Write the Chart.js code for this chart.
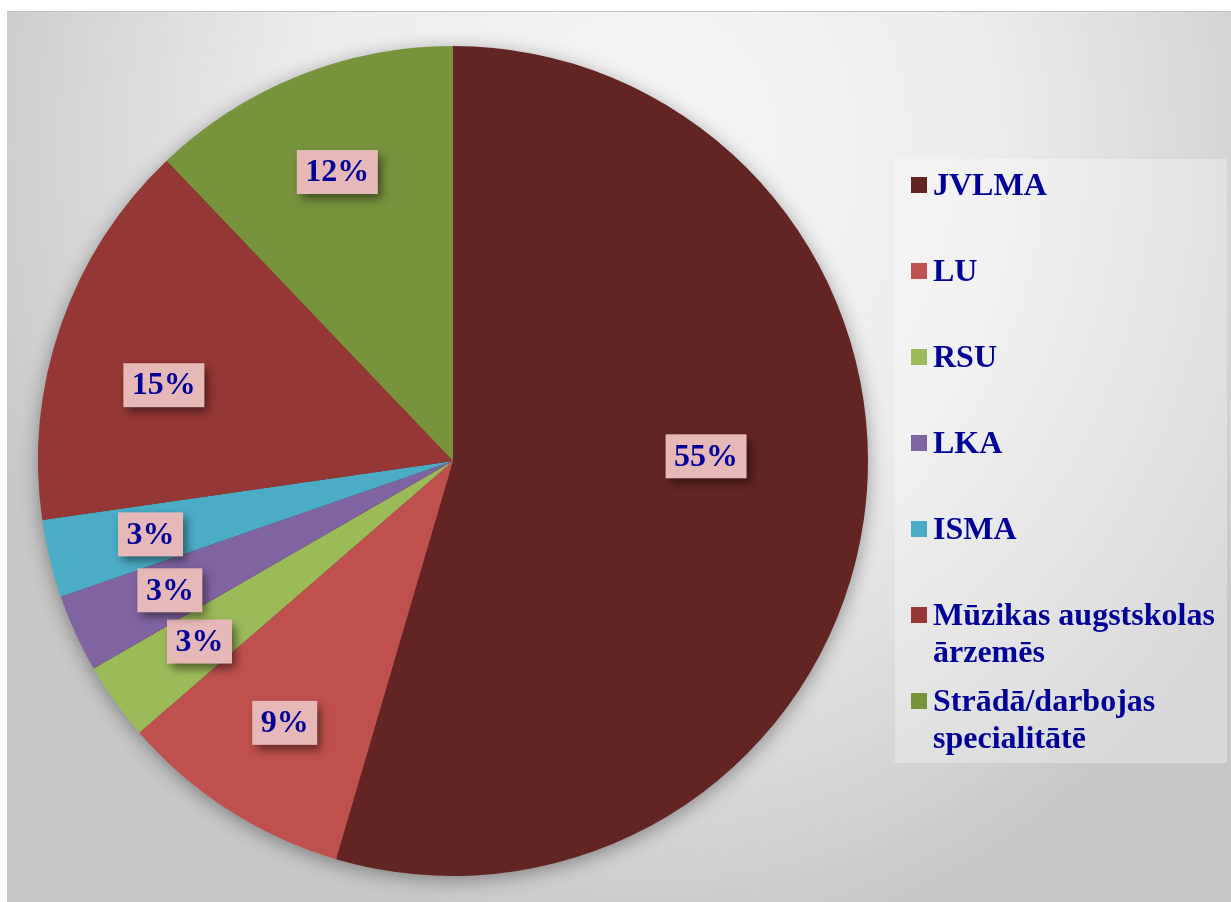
<!DOCTYPE html>
<html>
<head>
<meta charset="utf-8">
<script src="https://cdn.jsdelivr.net/npm/chart.js@4.4.0/dist/chart.umd.min.js"></script>
<style>
  html, body { margin: 0; padding: 0; background: #fff; }
  #wrap { position: relative; width: 1231px; height: 902px; overflow: hidden; }
  #bg {
    position: absolute; left: 7px; top: 11px; right: 0; bottom: 0;
    border-top: 1px solid #c6c6c6;
    background: radial-gradient(ellipse 700px 800px at 643px 139px, #f6f6f6 0%, #ececec 50%, #d4d4d4 85%, #c8c8c8 100%);
  }
  #myChart { position: absolute; left: 0; top: 0; }
</style>
</head>
<body>
<div id="wrap">
  <div id="bg"></div>
  <canvas id="myChart" width="1231" height="902"></canvas>
</div>
<script>
// categories (multi-line labels wrap like in the legend)
const categories = [
  'JVLMA',
  'LU',
  'RSU',
  'LKA',
  'ISMA',
  ['Mūzikas augstskolas', 'ārzemēs'],
  ['Strādā/darbojas', 'specialitātē']
];
// number of graduates per category (shown as rounded percentages)
const counts = [18, 3, 1, 1, 1, 5, 4];
const sliceColors = ['#632523', '#C0504D', '#9BBB59', '#8064A2', '#4BACC6', '#953735', '#77933C'];

const textColor = '#000099';
const serif = '"Liberation Serif", "Times New Roman", serif';

// soft shadow under the whole pie
const pieShadow = {
  id: 'pieShadow',
  beforeDatasetsDraw(chart) {
    const arc = chart.getDatasetMeta(0).data[0];
    if (!arc) return;
    const { x, y, outerRadius } = arc.getProps(['x', 'y', 'outerRadius'], true);
    const ctx = chart.ctx;
    ctx.save();
    ctx.shadowColor = 'rgba(0,0,0,0.4)';
    ctx.shadowBlur = 20;
    ctx.shadowOffsetY = 4;
    ctx.fillStyle = '#632523';
    ctx.beginPath();
    ctx.arc(x, y, outerRadius - 1, 0, Math.PI * 2);
    ctx.fill();
    ctx.restore();
  }
};

// pink percentage boxes
const pctLabels = {
  id: 'pctLabels',
  afterDatasetsDraw(chart, args, opts) {
    const ctx = chart.ctx;
    const data = chart.data.datasets[0].data;
    const total = data.reduce((a, b) => a + b, 0);
    chart.getDatasetMeta(0).data.forEach((arc, i) => {
      const p = arc.getProps(['x', 'y', 'startAngle', 'endAngle', 'outerRadius'], true);
      const mid = (p.startAngle + p.endAngle) / 2;
      const nudge = opts.nudge[i] || [0, 0];
      const cx = p.x + Math.cos(mid) * p.outerRadius * opts.radius + nudge[0];
      const cy = p.y + Math.sin(mid) * p.outerRadius * opts.radius + nudge[1];
      const txt = Math.round(data[i] / total * 100) + '%';
      ctx.save();
      ctx.font = 'bold 32px ' + serif;
      const w = ctx.measureText(txt).width + 17;
      const h = 44;
      ctx.shadowColor = 'rgba(0,0,0,0.5)';
      ctx.shadowBlur = 9;
      ctx.shadowOffsetX = 4;
      ctx.shadowOffsetY = 5;
      ctx.fillStyle = '#E6B9B8';
      ctx.fillRect(cx - w / 2, cy - h / 2, w, h);
      ctx.shadowColor = 'transparent';
      ctx.fillStyle = textColor;
      ctx.textAlign = 'center';
      ctx.textBaseline = 'middle';
      ctx.fillText(txt, cx, cy + 1);
      ctx.restore();
    });
  }
};

// legend panel on the right
const sideLegend = {
  id: 'sideLegend',
  afterDraw(chart, args, opts) {
    const ctx = chart.ctx;
    const ds = chart.data.datasets[0];
    ctx.save();
    ctx.fillStyle = 'rgba(255,255,255,0.3)';
    ctx.fillRect(opts.left, opts.top, opts.width, opts.height);
    ctx.font = 'bold 32px ' + serif;
    ctx.textBaseline = 'middle';
    ctx.textAlign = 'left';
    chart.data.labels.forEach((label, i) => {
      const lines = Array.isArray(label) ? label : [label];
      const y = opts.firstY + i * opts.step;
      ctx.fillStyle = ds.backgroundColor[i];
      ctx.fillRect(opts.left + 16, y - 8, 16, 16);
      ctx.fillStyle = textColor;
      lines.forEach((line, k) => {
        ctx.fillText(line, opts.left + 38, y + 2 + k * opts.lineHeight);
      });
    });
    ctx.restore();
  }
};

const ctx = document.getElementById('myChart').getContext('2d');
new Chart(ctx, {
  type: 'pie',
  data: {
    labels: categories,
    datasets: [{
      data: counts,
      backgroundColor: sliceColors,
      borderWidth: 0
    }]
  },
  options: {
    responsive: false,
    animation: false,
    layout: { padding: { top: 46, bottom: 26, left: 38, right: 363 } },
    plugins: {
      legend: false,
      tooltip: { enabled: false },
      pctLabels: { radius: 0.75, nudge: { 0: [-55, -49], 5: [5, 26] } },
      sideLegend: { left: 895, top: 159, width: 332, height: 604, firstY: 185, step: 86, lineHeight: 37 }
    }
  },
  plugins: [pieShadow, pctLabels, sideLegend]
});
</script>
</body>
</html>
